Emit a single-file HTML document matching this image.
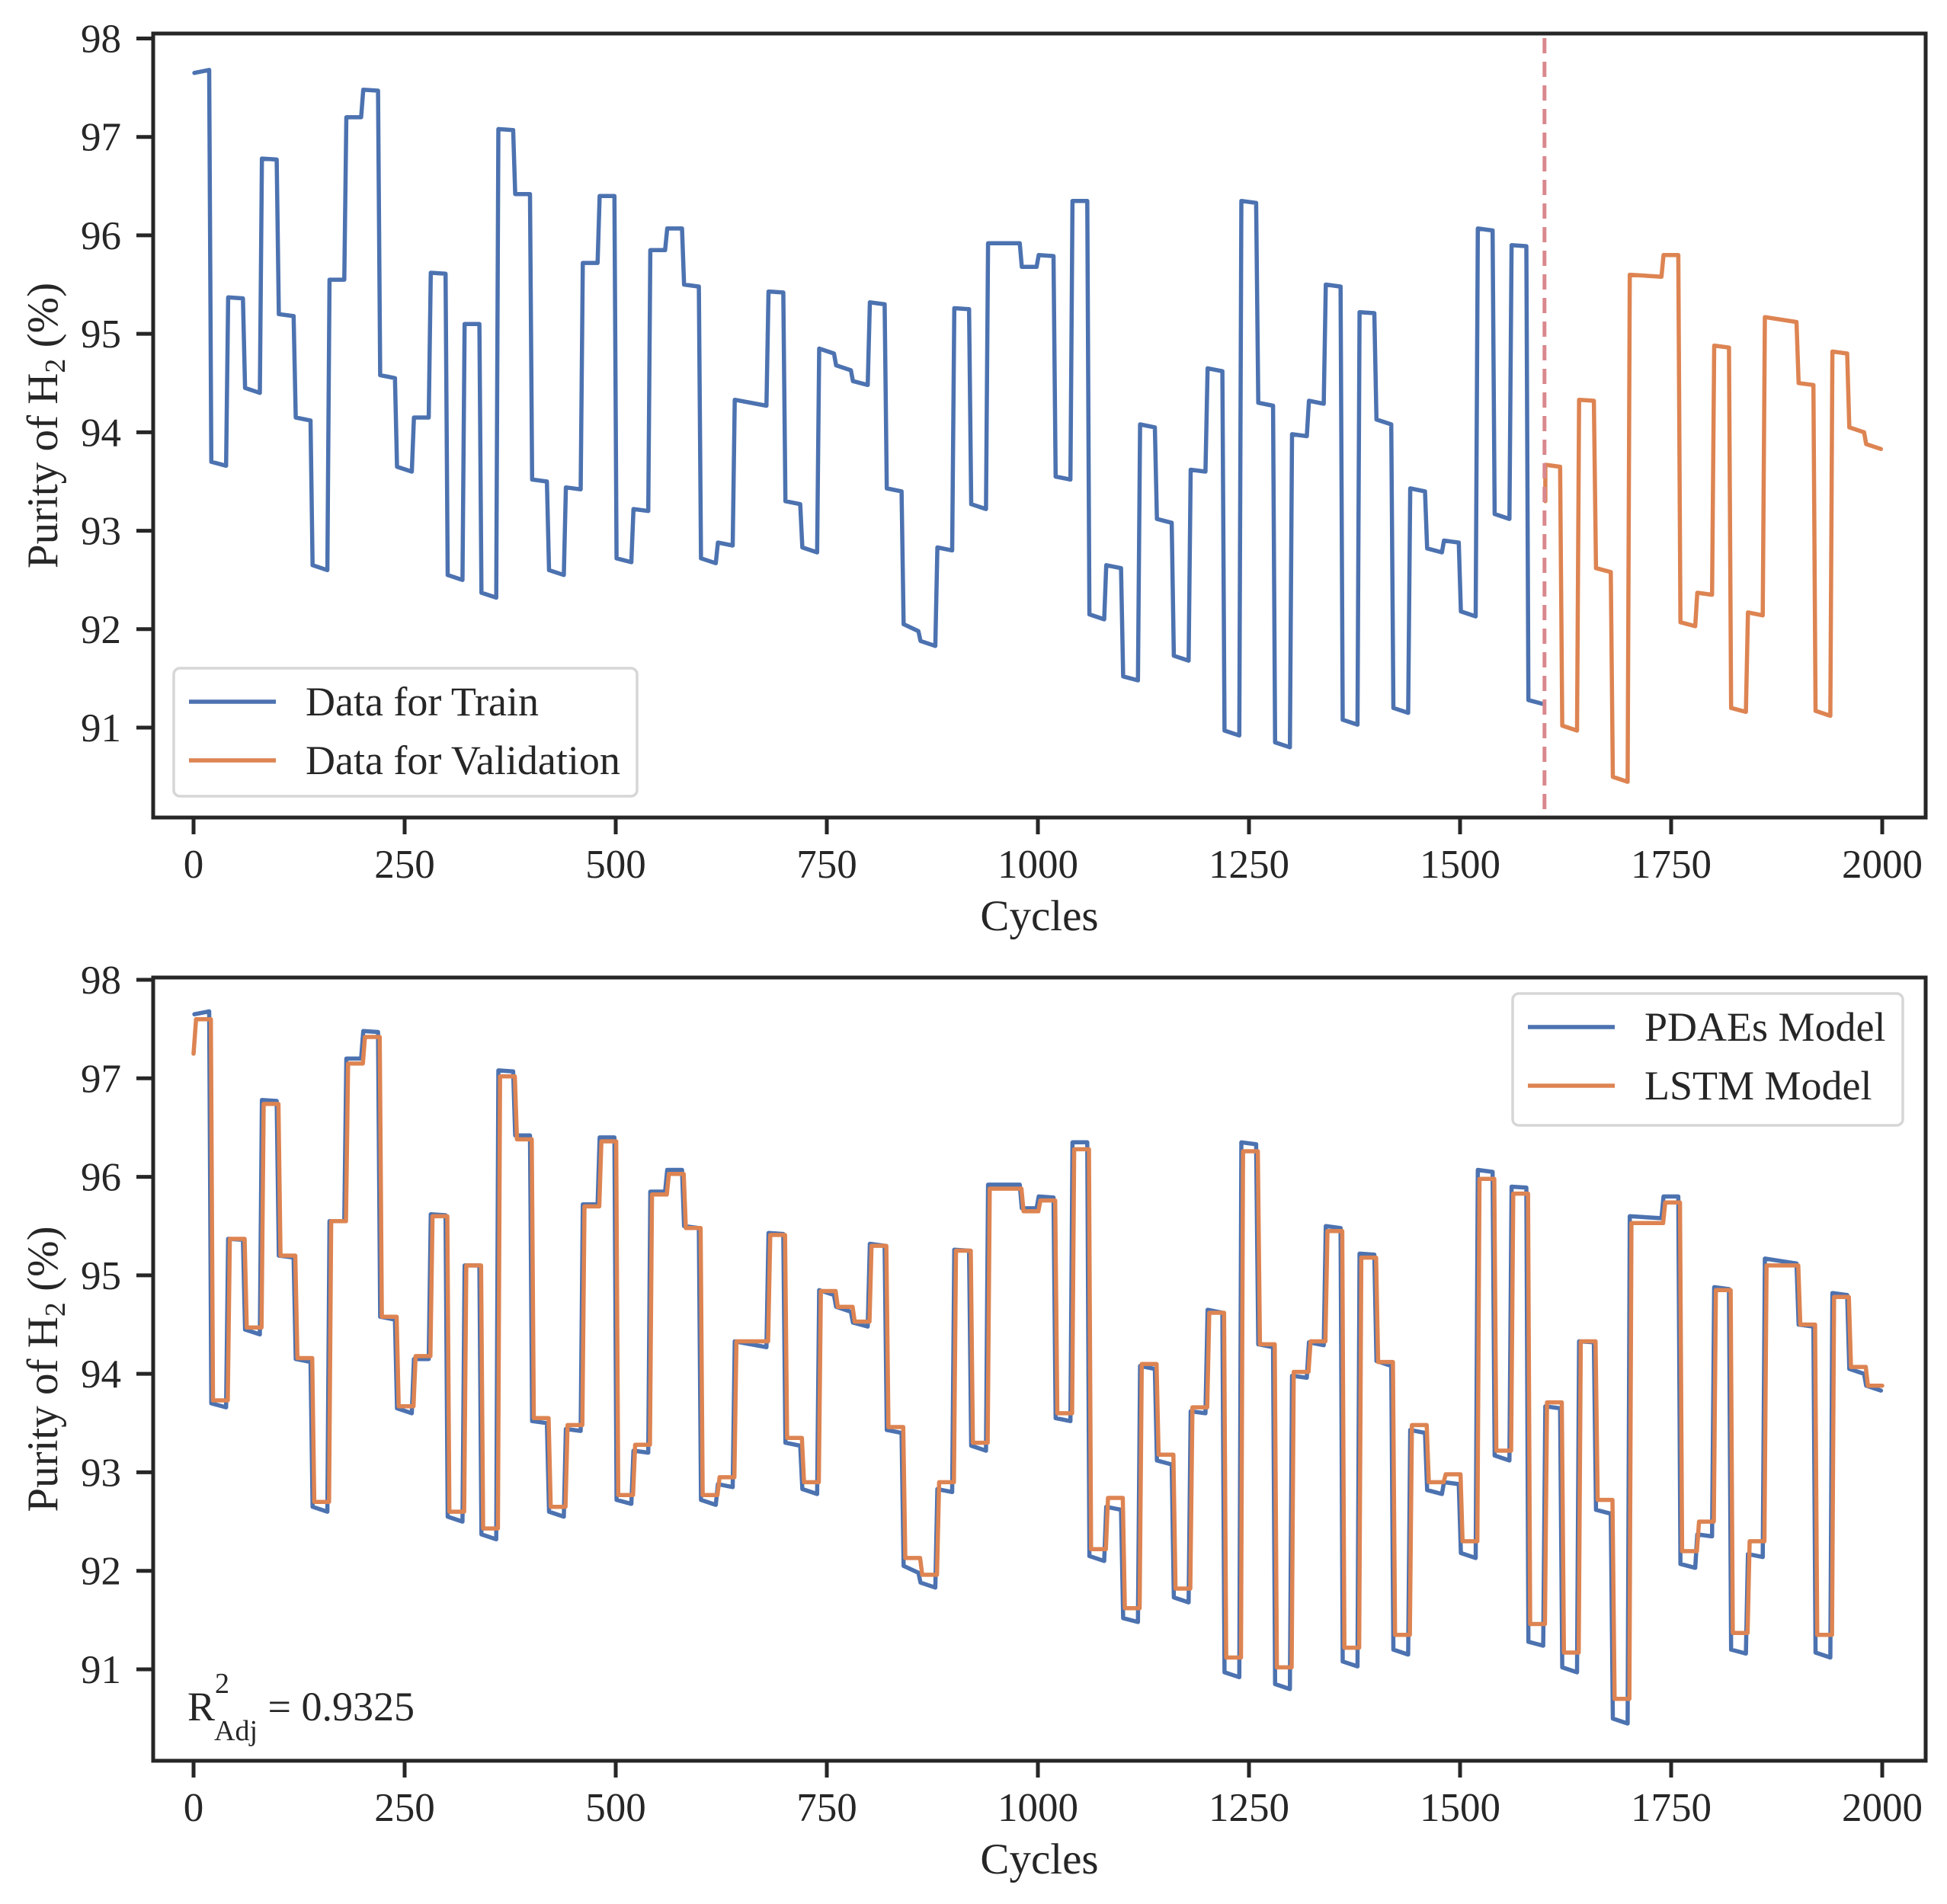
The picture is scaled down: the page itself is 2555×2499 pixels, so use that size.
<!DOCTYPE html>
<html><head><meta charset="utf-8"><style>
html,body{margin:0;padding:0;background:#fff}
svg{display:block}
text{font-family:"Liberation Serif",serif;fill:#262626}
</style></head><body>
<svg id="fig" width="2555" height="2499" viewBox="0 0 2555 2499" xmlns="http://www.w3.org/2000/svg">
  <rect width="2555" height="2499" fill="#fff"/>
  <g id="top"></g>
  <g id="bot"></g>
</svg>
<script>
const stepCycles = [0,20,40,60,80,100,120,140,160,180,200,220,240,260,280,300,320,340,360,380,400,420,440,460,480,500,520,540,560,580,600,620,640,680,700,720,740,760,780,800,820,840,860,880,900,920,940,980,1000,1020,1040,1060,1080,1100,1120,1140,1160,1180,1200,1220,1240,1260,1280,1300,1320,1340,1360,1380,1400,1420,1440,1460,1480,1500,1520,1540,1560,1580];
const trainStart = [97.65,93.7,95.37,94.45,96.78,95.2,94.15,92.65,95.55,97.2,97.48,94.58,93.65,94.15,95.62,92.55,95.1,92.37,97.08,96.42,93.52,92.6,93.44,95.72,96.4,92.72,93.22,95.85,96.07,95.5,92.72,92.88,94.33,95.43,93.3,92.83,94.85,94.68,94.52,95.32,93.43,92.05,91.88,92.83,95.26,93.27,95.92,95.68,95.8,93.55,96.35,92.15,92.65,91.52,94.08,93.12,91.73,93.62,94.65,90.97,96.35,94.3,90.85,93.98,94.32,95.5,91.08,95.22,94.13,91.2,93.43,92.82,92.9,92.18,96.07,93.17,95.9,91.28];
const trainEnd = [97.68,93.66,95.36,94.4,96.77,95.18,94.12,92.6,95.55,97.2,97.47,94.55,93.6,94.15,95.61,92.5,95.1,92.32,97.07,96.42,93.5,92.55,93.42,95.72,96.4,92.68,93.2,95.85,96.07,95.48,92.67,92.85,94.27,95.42,93.27,92.78,94.8,94.63,94.48,95.3,93.4,91.98,91.83,92.8,95.25,93.22,95.92,95.68,95.79,93.52,96.35,92.1,92.62,91.48,94.05,93.08,91.68,93.6,94.62,90.92,96.33,94.27,90.8,93.96,94.29,95.48,91.03,95.21,94.08,91.15,93.4,92.78,92.88,92.13,96.05,93.12,95.89,91.24];
const valCycles = [1600,1620,1640,1660,1680,1700,1740,1760,1780,1800,1820,1840,1860,1900,1920,1940,1960,1980];
const valStart = [93.67,91.02,94.33,92.62,90.5,95.6,95.8,92.07,92.37,94.88,91.2,92.17,95.17,94.5,91.17,94.82,94.05,93.88];
const valEnd = [93.65,90.97,94.32,92.58,90.45,95.58,95.8,92.03,92.35,94.86,91.16,92.14,95.12,94.48,91.12,94.8,94.0,93.83];
const lstmTrain = [97.6,93.73,95.37,94.47,96.74,95.2,94.16,92.7,95.55,97.15,97.42,94.58,93.67,94.18,95.6,92.6,95.1,92.43,97.02,96.38,93.55,92.65,93.48,95.7,96.36,92.77,93.28,95.82,96.03,95.48,92.77,92.95,94.33,95.41,93.35,92.9,94.84,94.68,94.53,95.3,93.46,92.13,91.96,92.9,95.25,93.3,95.88,95.65,95.76,93.6,96.28,92.22,92.74,91.62,94.1,93.18,91.82,93.66,94.62,91.12,96.26,94.3,91.02,94.02,94.33,95.45,91.22,95.18,94.12,91.35,93.48,92.9,92.98,92.3,95.98,93.22,95.83,91.46];
const lstmVal = [93.71,91.17,94.33,92.72,90.7,95.53,95.74,92.2,92.5,94.85,91.37,92.3,95.1,94.5,91.35,94.78,94.07,93.88];
const xTicks = [0,250,500,750,1000,1250,1500,1750,2000];
const yTicks = [91,92,93,94,95,96,97,98];

const NS = "http://www.w3.org/2000/svg";
const BLUE = "#4c72b0", ORANGE = "#dd8452";
function X(c){ return 254 + c * (2470 - 254) / 2000; }
function mk(parent, tag, attrs, txt){
  const el = document.createElementNS(NS, tag);
  for (const k in attrs) el.setAttribute(k, attrs[k]);
  if (txt !== undefined) el.textContent = txt;
  parent.appendChild(el);
  return el;
}
function buildPts(cyc, a, b, endCycle, Y, lag){
  const pts = [];
  for (let i = 0; i < cyc.length; i++){
    const s = cyc[i] + lag, e = (i + 1 < cyc.length ? cyc[i+1] : endCycle) + lag - 1.5;
    pts.push([X(s + 1), Y(a[i])]);
    pts.push([X(Math.min(e, 2000)), Y(b[i])]);
  }
  return pts.map(p => p[0].toFixed(1) + "," + p[1].toFixed(1)).join(" ");
}
function axes(g, top, bottom, y98, y91){
  const Y = v => y98 + (98 - v) * (y91 - y98) / 7;
  const left = 201, right = 2527;
  for (const t of xTicks){
    const tk = mk(g, "line", {x1:X(t), x2:X(t), y1:bottom, y2:bottom+22, stroke:"#262626", "stroke-width":5});
    
    
    const tl = mk(g, "text", {x:X(t), y:bottom+79, "font-size":53, "text-anchor":"middle"}, String(t));
    
    
  }
  for (const t of yTicks){
    const tk = mk(g, "line", {x1:left-22, x2:left, y1:Y(t), y2:Y(t), stroke:"#262626", "stroke-width":5});
    
    
    const tl = mk(g, "text", {x:left-42, y:Y(t)+18, "font-size":53, "text-anchor":"end"}, String(t));
    
    
  }
  const xl = mk(g, "text", {x:(left+right)/2, y:bottom+148, "font-size":57, "text-anchor":"middle"}, "Cycles");
  
  
  const cy = (top+bottom)/2;
  const yl = mk(g, "text", {x:0, y:0, "font-size":57, "text-anchor":"middle", transform:"translate(75," + cy + ") rotate(-90)"});
  
  
  mk(yl, "tspan", {}, "Purity of H");
  mk(yl, "tspan", {"font-size":38, dy:10}, "2");
  mk(yl, "tspan", {dy:-10}, " (%)");
  return Y;
}
function spines(g, top, bottom){
  const r = mk(g, "rect", {x:201, y:top, width:2326, height:bottom-top, fill:"none", stroke:"#262626", "stroke-width":5});
  
  
}
function legend(g, x, y, w, h, items){
  const box = mk(g, "rect", {x:x, y:y, width:w, height:h, rx:8, fill:"#fff", "fill-opacity":0.85, stroke:"#d6d6d6", "stroke-width":3.5});
  
  
  items.forEach((it, i) => {
    const ly = y + 44 + i * 77;
    const ln = mk(g, "line", {x1:x+20, x2:x+134, y1:ly, y2:ly, stroke:it.c, "stroke-width":5.5});
    
    
    const tx = mk(g, "text", {x:x+173, y:ly+18, "font-size":54}, it.t);
    
    
  });
}

// TOP chart
const gt = document.getElementById("top");
const Yt = axes(gt, 44, 1073, 50.5, 955);
const tr = mk(gt, "polyline", {points:buildPts(stepCycles, trainStart, trainEnd, 1600, Yt, 0), fill:"none", stroke:BLUE, "stroke-width":5.5, "stroke-linejoin":"round", "stroke-linecap":"round"});


const va = mk(gt, "polyline", {points:X(1601)+","+Yt(93.3)+" "+buildPts(valCycles, valStart, valEnd, 2000, Yt, 0), fill:"none", stroke:ORANGE, "stroke-width":5.5, "stroke-linejoin":"round", "stroke-linecap":"round"});


const dl = mk(gt, "line", {x1:X(1600), x2:X(1600), y1:50, y2:1073, stroke:"#d9898e", "stroke-width":5, "stroke-dasharray":"20,11"});


spines(gt, 44, 1073);
legend(gt, 228, 877, 608, 168, [{c:BLUE, t:"Data for Train", n:"train"}, {c:ORANGE, t:"Data for Validation", n:"validation"}]);

// BOTTOM chart
const gb = document.getElementById("bot");
const Yb = axes(gb, 1283, 2311, 1286, 2191);
const allCyc = stepCycles.concat(valCycles);
const pdS = trainStart.concat(valStart), pdE = trainEnd.concat(valEnd);
const pd = mk(gb, "polyline", {points:buildPts(allCyc, pdS, pdE, 2000, Yb, 0), fill:"none", stroke:BLUE, "stroke-width":5.5, "stroke-linejoin":"round", "stroke-linecap":"round"});


const lv = lstmTrain.concat(lstmVal);
const ls = mk(gb, "polyline", {points:X(0)+","+Yb(97.25)+" "+buildPts(allCyc, lv, lv, 2000, Yb, 2), fill:"none", stroke:ORANGE, "stroke-width":5.5, "stroke-linejoin":"round", "stroke-linecap":"round"});


spines(gb, 1283, 2311);
legend(gb, 1985, 1304, 512, 173, [{c:BLUE, t:"PDAEs Model", n:"pdaes"}, {c:ORANGE, t:"LSTM Model", n:"lstm"}]);
const r2 = mk(gb, "text", {x:246, y:2258, "font-size":54});


mk(r2, "tspan", {}, "R");
mk(r2, "tspan", {"font-size":38, dy:-36, dx:0}, "2");
mk(r2, "tspan", {"font-size":38, dy:62, dx:-20}, "Adj");
mk(r2, "tspan", {dy:-26}, " = 0.9325");
</script>
</body></html>
